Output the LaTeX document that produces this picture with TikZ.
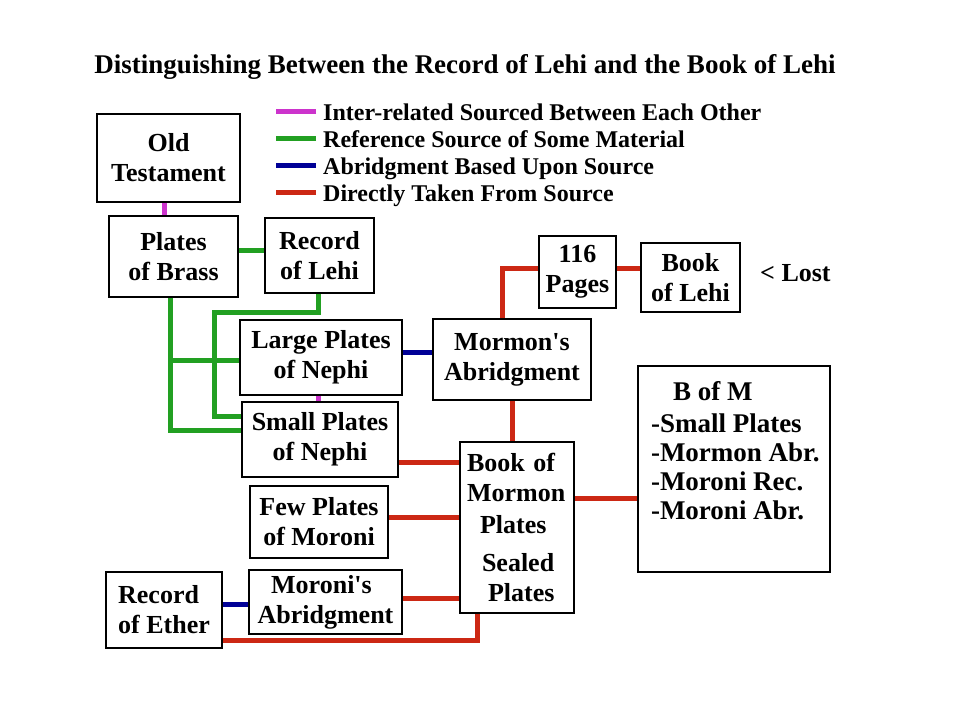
\documentclass[tikz,border=0pt]{standalone}
\usepackage{fontspec}
\setmainfont{Liberation Serif}[Ligatures=TeXOff]
\usetikzlibrary{calc}
\definecolor{interpink}{RGB}{204,51,204}
\definecolor{refgreen}{RGB}{34,160,34}
\definecolor{abrblue}{RGB}{0,0,150}
\definecolor{takenred}{RGB}{204,40,20}

\begin{document}
\begin{tikzpicture}[x=1pt,y=-1pt,
    box/.style={draw, line width=1.6pt, inner sep=2pt, align=center,
      font=\fontsize{26}{30}\selectfont\bfseries},
    inter/.style={draw=interpink, line width=5pt},
    refline/.style={draw=refgreen, line width=5pt},
    abr/.style={draw=abrblue, line width=5pt},
    taken/.style={draw=takenred, line width=5pt},
    legtext/.style={anchor=base west, inner sep=0pt, font=\fontsize{24}{27}\selectfont\bfseries}]
    \fill [white] (0,0) rectangle (960,720);
    \useasboundingbox (0,0) rectangle (960,720);

    \node [anchor=base, inner sep=0pt, font=\fontsize{27}{30}\selectfont\bfseries] (title) at (465,73)
      {Distinguishing Between the Record of Lehi and the Book of Lehi};

    \node [legtext] (legA) at (323,120) {Inter-related Sourced Between Each Other};
    \node [legtext] (legB) at (323,147) {Reference Source of Some Material};
    \node [legtext] (legC) at (323,174) {Abridgment Based Upon Source};
    \node [legtext] (legD) at (323,201) {Directly Taken From Source};
    \draw [inter] ([xshift=-7pt,yshift=9pt]legA.base west) -- ++(-40,0);
    \draw [refline] ([xshift=-7pt,yshift=9pt]legB.base west) -- ++(-40,0);
    \draw [abr] ([xshift=-7pt,yshift=9pt]legC.base west) -- ++(-40,0);
    \draw [taken] ([xshift=-7pt,yshift=9pt]legD.base west) -- ++(-40,0);

    \node [box, minimum width=143, minimum height=88] (ot) at (168.5,158) {Old\\Testament};
    \node [box, minimum width=129, minimum height=81] (brass) at (173.5,256.5) {Plates\\of Brass};
    \node [box, minimum width=109, minimum height=75] (lehi) at (319.5,255.5) {Record\\of Lehi};
    \node [box, minimum width=162, minimum height=75] (large) at (321,357.5) {Large Plates\\of Nephi};
    \node [box, minimum width=156, minimum height=75] (small) at (320,439.5) {Small Plates\\of Nephi};
    \node [box, minimum width=158, minimum height=81] (morm) at (512,359.5) {Mormon's\\Abridgment};
    \node [box, minimum width=77, minimum height=72] (pages) at (577.5,272) {116\\Pages};
    \node [box, minimum width=99, minimum height=69] (booklehi) at (690.5,277.5) {Book\\of Lehi};
    \node [anchor=base west, inner sep=0pt, font=\fontsize{26}{30}\selectfont\bfseries] (lost) at (760,281) {< Lost};
    \node [box, inner sep=0pt, minimum width=192, minimum height=206,
      font=\fontsize{27}{29}\selectfont\bfseries] (bofm) at (734,469)
      {\begin{minipage}[c][206pt][t]{192pt}\vspace*{15pt}%
        \hspace*{35pt}B of M\\[3pt]
        \hspace*{13pt}-Small Plates\\
        \hspace*{13pt}-Mormon Abr.\\
        \hspace*{13pt}-Moroni Rec.\\
        \hspace*{13pt}-Moroni Abr.\end{minipage}};
    \node [box, align=left, inner xsep=7pt, text width=100, minimum height=171] (bomp) at (517,527.5)
      {Book of\\Mormon\\[2pt]\hspace*{13pt}Plates\\[8pt]\hspace*{15pt}Sealed\\\hspace*{21pt}Plates};
    \node [box, minimum width=138, minimum height=72] (few) at (319,522) {Few Plates\\of Moroni};
    \node [box, minimum width=153, minimum height=64] (moroni) at (325.5,602) {Moroni's\hspace*{8pt}\\Abridgment};
    \node [box, align=left, minimum width=116, minimum height=76] (ether) at (164,610) {Record\\of Ether};

    \coordinate (otdrop) at ([xshift=-4.5pt]ot.south);
    \coordinate (brasslehi) at ([yshift=6.5pt]brass.east);
    \coordinate (brassline) at ([xshift=-3.5pt]brass.south);
    \coordinate (largein) at ([yshift=-2.5pt]large.west);
    \coordinate (largedrop) at ([xshift=-3pt]large.south);
    \coordinate (largeout) at ([yshift=5.5pt]large.east);
    \coordinate (pagesout) at ([yshift=4pt]pages.east);
    \coordinate (smallout) at ([yshift=-22.5pt]small.east);
    \coordinate (fewout) at ([yshift=5pt]few.east);
    \coordinate (moroniout) at ([yshift=4pt]moroni.east);
    \coordinate (etherhigh) at ([yshift=6pt]ether.east);
    \coordinate (bompout) at ([yshift=29.5pt]bomp.east);

    \draw [inter] (otdrop) -- (otdrop |- brass.north);
    \draw [inter] (largedrop) -- (largedrop |- small.north);
    \draw [refline] (brasslehi) -- (brasslehi -| lehi.west);
    \draw [refline] ([xshift=-1.5pt]lehi.south) |- (214,312) |- ([yshift=23.5pt]small.west);
    \draw [refline] (brassline) |- ([yshift=9.5pt]small.west);
    \draw [refline] (largein) -- (largein -| brassline);
    \draw [abr] (largeout) -- (largeout -| morm.west);
    \draw [abr] (etherhigh) -- (etherhigh -| moroni.west);
    \draw [taken] ([xshift=-10pt]morm.north) |- ([yshift=4pt]pages.west);
    \draw [taken] (pagesout) -- (pagesout -| booklehi.west);
    \draw [taken] (morm.south) -- (morm.south |- bomp.north);
    \draw [taken] (smallout) -- (smallout -| bomp.west);
    \draw [taken] (fewout) -- (fewout -| bomp.west);
    \draw [taken] (moroniout) -- (moroniout -| bomp.west);
    \draw [taken] ([yshift=-30pt]ether.east) -| ([xshift=-40pt]bomp.south);
    \draw [taken] (bompout) -- (bompout -| bofm.west);
\end{tikzpicture}
\end{document}
